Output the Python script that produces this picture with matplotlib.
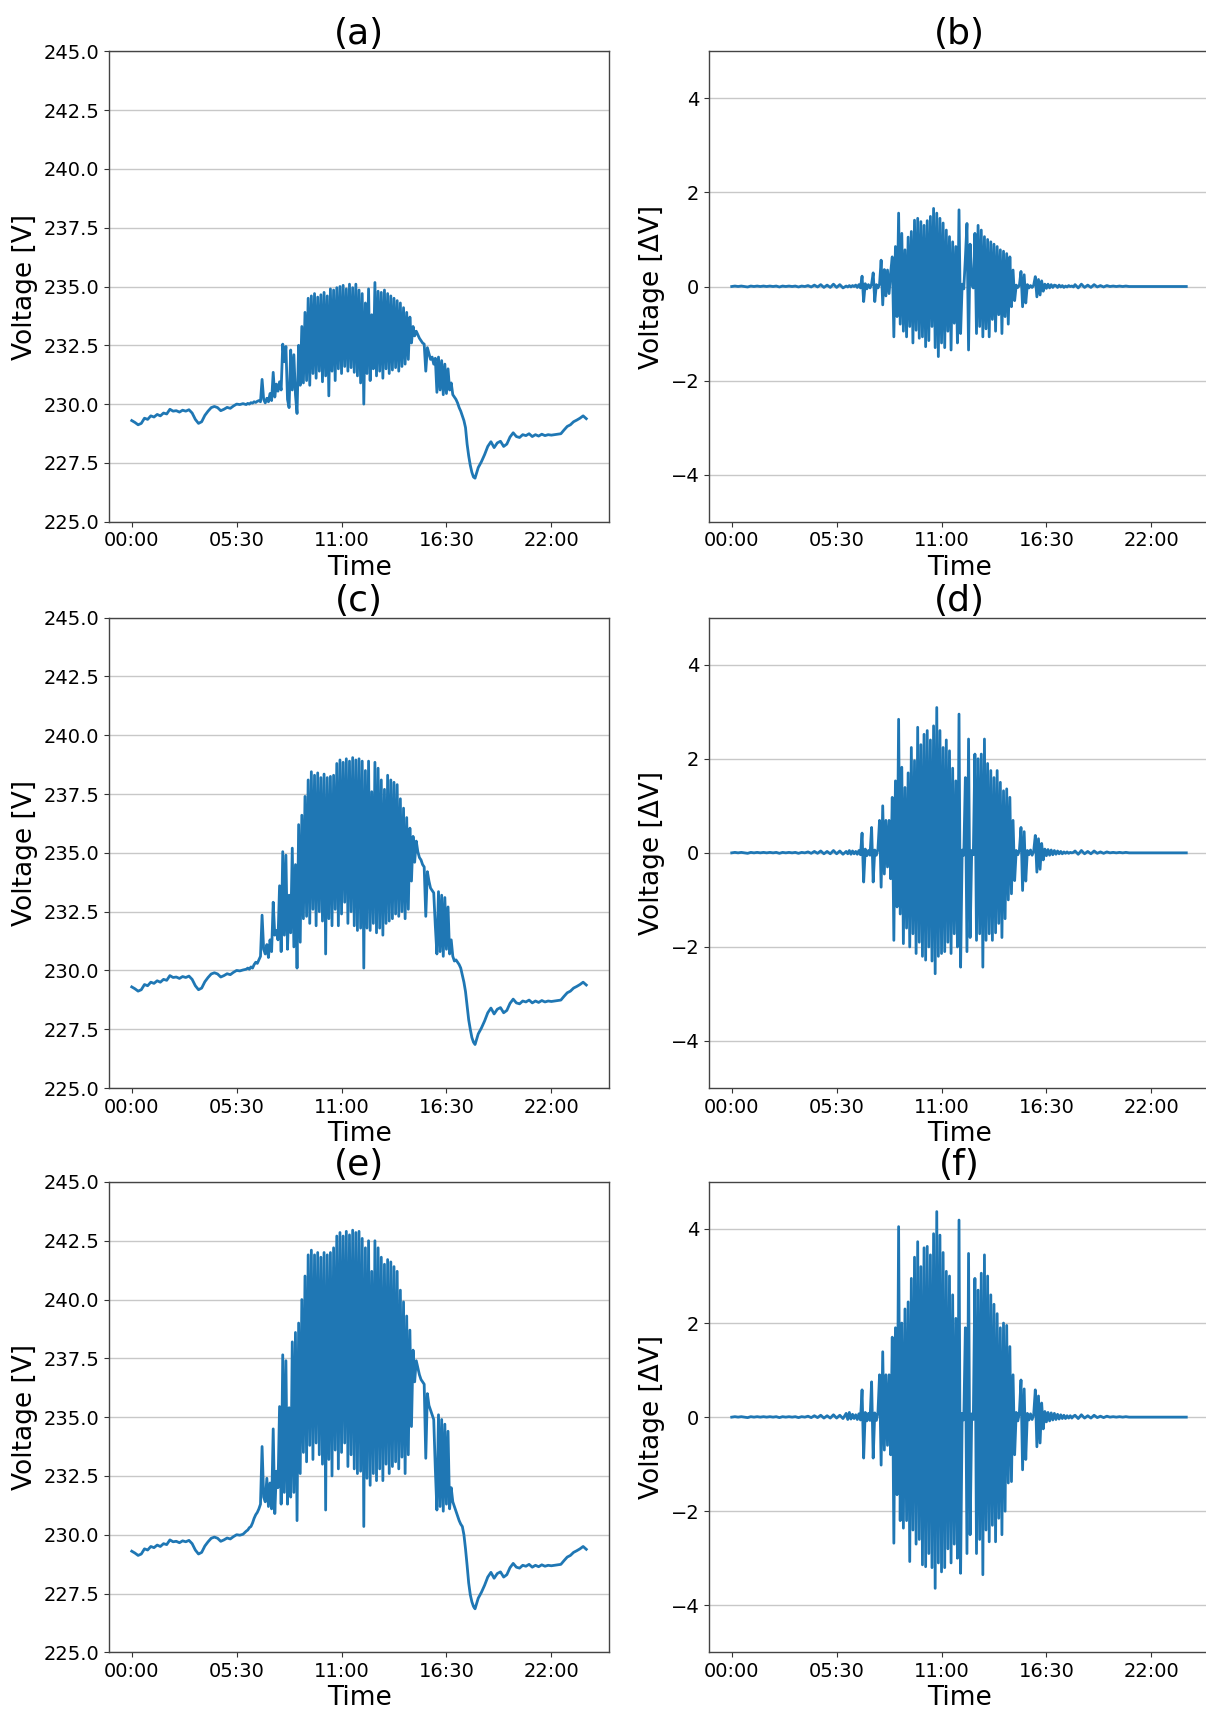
import numpy as np
import matplotlib.pyplot as plt

# sampling grid: 10-min steps at night, 5-min steps during the day
t_am = np.arange(36) / 6          # 00:00 - 05:50
t_day = 6 + np.arange(144) / 12   # 06:00 - 17:55
t_pm = 18 + np.arange(36) / 6     # 18:00 - 23:50
hours = np.concatenate([t_am, t_day, t_pm])

tick_hours = [0, 5.5, 11, 16.5, 22]
tick_labels = ["00:00", "05:30", "11:00", "16:30", "22:00"]

# --- bus voltage [V], night parts are the same in all three cases ---
v_night_am = [
    229.30, 229.22, 229.12, 229.18, 229.40, 229.35,
    229.50, 229.45, 229.56, 229.50, 229.62, 229.58,
    229.78, 229.70, 229.72, 229.66, 229.74, 229.70,
    229.76, 229.62, 229.35, 229.18, 229.25, 229.52,
    229.70, 229.85, 229.90, 229.85, 229.72, 229.78,
    229.86, 229.82, 229.92, 230.00, 229.98, 230.02,
]
v_night_pm = [
    226.85, 227.30, 227.55, 227.85, 228.20, 228.40,
    228.15, 228.35, 228.42, 228.20, 228.30, 228.60,
    228.78, 228.62, 228.58, 228.70, 228.66, 228.74,
    228.62, 228.70, 228.64, 228.72, 228.66, 228.70,
    228.68, 228.70, 228.72, 228.74, 228.90, 229.05,
    229.12, 229.25, 229.32, 229.40, 229.50, 229.38,
]

v_day_a = [
    229.98, 230.03, 230.00, 230.06, 230.04, 230.10, 230.07, 230.12, 230.15, 230.10, 231.05, 230.20,
    230.05, 230.25, 230.10, 230.45, 230.15, 231.35, 230.30, 230.85, 230.55, 230.95, 230.60, 232.55,
    231.80, 232.45, 230.20, 229.85, 232.30, 230.60, 232.10, 230.40, 229.60, 232.50, 230.80, 233.30,
    230.90, 233.90, 231.00, 234.50, 230.80, 234.60, 231.30, 234.70, 231.10, 234.55, 231.40, 234.65,
    230.95, 234.75, 231.20, 234.60, 230.35, 234.90, 231.40, 234.85, 231.00, 234.95, 231.50, 235.00,
    231.30, 235.05, 231.60, 234.90, 231.40, 235.10, 231.55, 234.95, 231.35, 235.10, 231.20, 234.85,
    230.90, 234.70, 230.00, 234.30, 231.30, 234.90, 231.00, 233.80, 231.50, 235.17, 231.20, 234.80,
    231.40, 234.75, 231.10, 234.85, 231.50, 234.70, 231.30, 234.60, 231.45, 234.50, 231.55, 234.40,
    231.40, 234.30, 231.60, 234.10, 231.70, 233.90, 231.90, 233.70, 232.60, 233.30, 232.90, 233.10,
    232.95, 232.80, 232.70, 232.60, 232.55, 231.40, 232.40, 232.15, 231.90, 232.00, 231.70, 231.95,
    230.50, 232.00, 230.60, 231.85, 230.40, 231.70, 230.45, 231.50, 230.60, 230.90, 230.40, 230.30,
    230.20, 230.05, 229.85, 229.70, 229.50, 229.30, 229.00, 228.30, 227.80, 227.40, 227.10, 226.90,
]
v_day_c = [
    230.05, 230.10, 230.05, 230.15, 230.10, 230.25, 230.35, 230.30, 230.45, 230.60, 232.35, 230.90,
    230.70, 231.10, 230.55, 231.30, 230.80, 232.90, 231.50, 231.70, 231.30, 233.60, 230.80, 235.05,
    231.50, 234.90, 230.90, 233.20, 231.60, 235.20, 231.00, 234.50, 230.10, 236.20, 231.20, 236.60,
    232.20, 237.40, 232.30, 238.10, 232.00, 238.45, 232.60, 238.30, 231.90, 238.40, 232.50, 238.20,
    232.10, 238.35, 230.70, 238.20, 232.20, 238.25, 231.90, 238.30, 232.60, 238.80, 231.90, 238.95,
    232.40, 238.85, 232.90, 239.00, 232.00, 238.90, 232.50, 239.05, 231.90, 238.95, 231.70, 239.00,
    231.80, 238.90, 230.10, 238.50, 231.80, 238.90, 231.70, 237.60, 232.00, 238.85, 231.60, 238.60,
    231.80, 238.10, 231.50, 237.70, 232.00, 238.30, 232.10, 238.10, 232.20, 238.00, 232.40, 237.90,
    232.30, 237.30, 232.50, 236.90, 232.20, 236.50, 232.60, 236.05, 233.80, 235.70, 234.60, 235.50,
    235.05, 234.80, 234.70, 234.50, 234.40, 232.30, 234.20, 233.80, 233.50, 233.40, 233.30, 231.90,
    230.70, 233.35, 230.80, 233.20, 230.60, 233.10, 230.90, 232.70, 230.70, 231.30, 230.60, 230.40,
    230.45, 230.35, 230.25, 230.10, 229.80, 229.50, 229.10, 228.50, 227.90, 227.50, 227.15, 226.95,
]
v_day_e = [
    230.15, 230.20, 230.30, 230.35, 230.50, 230.70, 230.85, 230.95, 231.10, 231.30, 233.75, 231.60,
    231.40, 232.40, 231.20, 232.20, 231.10, 234.50, 230.90, 232.70, 232.00, 235.45, 231.30, 237.65,
    231.80, 237.40, 231.30, 235.40, 231.60, 238.20, 231.80, 238.60, 230.60, 239.00, 232.60, 240.00,
    233.50, 241.00, 233.10, 241.90, 233.80, 242.10, 233.20, 241.90, 233.90, 242.00, 233.40, 241.80,
    233.00, 242.00, 231.05, 241.90, 233.20, 242.00, 232.50, 242.20, 233.60, 242.70, 232.80, 242.85,
    233.50, 242.70, 233.90, 242.90, 232.90, 242.75, 233.40, 242.95, 232.80, 242.85, 232.60, 242.90,
    232.70, 242.60, 230.35, 242.20, 232.40, 242.50, 232.10, 241.20, 232.60, 242.50, 232.30, 242.20,
    232.80, 241.80, 232.30, 241.50, 233.00, 241.70, 232.60, 241.60, 232.90, 241.40, 233.10, 241.20,
    232.80, 240.40, 233.30, 239.90, 232.60, 239.30, 233.40, 238.70, 234.60, 237.85, 236.50, 237.40,
    237.10, 236.80, 236.60, 236.50, 236.40, 233.25, 236.00, 235.50, 235.30, 235.10, 234.90, 232.80,
    231.05, 235.10, 231.20, 234.90, 231.00, 234.70, 231.30, 234.40, 231.10, 232.00, 231.40, 231.20,
    231.00, 230.80, 230.60, 230.45, 230.35, 230.00, 229.40, 228.70, 227.95, 227.45, 227.15, 226.95,
]

# --- voltage deviation [dV] ---
dv_night_am = [
    0.00, 0.01, 0.00, 0.01, 0.00, -0.01, 0.01, 0.00, 0.01, 0.00, 0.01, 0.00,
    0.01, 0.00, 0.01, -0.01, 0.01, 0.00, 0.01, 0.00, 0.01, -0.01, 0.01, 0.00,
    0.02, -0.01, 0.03, -0.01, 0.04, -0.02, 0.03, -0.02, 0.05, -0.02, 0.04, -0.03,
]
dv_night_pm = [
    0.04, -0.03, 0.05, -0.02, 0.03, -0.02, 0.04, -0.01, 0.02, -0.01, 0.02, 0.00,
    0.01, 0.00, 0.01, 0.00, 0.01, 0.00, 0.00, 0.00, 0.00, 0.00, 0.00, 0.00,
    0.00, 0.00, 0.00, 0.00, 0.00, 0.00, 0.00, 0.00, 0.00, 0.00, 0.00, 0.00,
]

dv_day_b = [
    0.01, -0.01, 0.02, -0.01, 0.02, 0.00, 0.03, -0.02, 0.04, -0.03, 0.22, -0.32,
    0.06, -0.05, 0.04, -0.03, 0.05, 0.29, -0.32, 0.04, -0.03, 0.05, 0.56, -0.39,
    0.36, -0.20, 0.35, -0.15, 0.30, 0.63, -1.07, 0.85, -0.64, 1.56, -0.80, 1.13,
    -0.95, 0.78, -1.07, 1.05, -0.85, 1.17, -1.20, 1.41, -0.93, 1.45, -1.10, 1.38,
    -1.07, 1.30, -1.28, 1.40, -1.15, 1.49, -0.85, 1.66, -1.30, 1.56, -1.49, 1.45,
    -1.20, 1.35, -1.30, 1.20, -0.95, 1.06, -1.35, 0.95, -0.78, 0.85, -1.20, 1.63,
    -1.00, 0.05, -0.05, 0.60, 1.34, -1.35, 0.90, 0.04, -0.03, 1.13, -1.00, 1.30,
    -0.85, 1.20, -1.07, 1.06, -0.90, 1.00, -1.07, 0.95, -0.70, 0.90, -0.95, 0.85,
    -0.60, 0.78, -1.00, 0.75, -0.64, 0.70, -0.80, 0.63, -0.43, 0.35, -0.30, 0.03,
    -0.02, 0.03, 0.32, -0.43, 0.25, -0.35, 0.04, -0.03, 0.02, -0.02, 0.03, 0.21,
    -0.22, 0.15, -0.18, 0.12, -0.10, 0.05, -0.04, 0.05, -0.03, 0.04, -0.02, 0.03,
    0.02, -0.02, 0.03, -0.01, 0.02, -0.02, 0.01, -0.01, 0.02, 0.00, 0.01, -0.01,
]
dv_day_d = [
    0.03, -0.02, 0.05, -0.03, 0.04, -0.02, 0.03, -0.03, 0.05, -0.04, 0.42, -0.62,
    0.08, -0.06, 0.05, -0.05, 0.54, -0.62, 0.06, -0.05, 0.08, 0.69, -0.73, 1.00,
    -0.45, 0.69, -0.30, 0.69, -0.55, 1.18, -1.86, 1.53, -1.15, 2.84, -1.30, 1.82,
    -1.93, 1.39, -1.60, 1.70, -2.00, 2.24, -1.72, 1.96, -2.14, 2.67, -1.90, 2.30,
    -2.20, 2.52, -2.28, 2.60, -2.00, 2.40, -2.30, 2.70, -2.57, 3.09, -2.20, 2.60,
    -2.14, 2.24, -2.10, 2.40, -1.90, 2.17, -2.14, 1.80, -1.72, 1.53, -2.00, 2.95,
    -2.43, 0.06, -0.05, 1.60, -2.10, 2.42, -1.80, 0.05, -0.04, 2.10, -1.86, 2.00,
    -1.72, 2.10, -2.43, 2.42, -1.86, 1.90, -1.72, 1.75, -1.86, 1.60, -1.70, 1.75,
    -1.50, 1.50, -1.80, 1.32, -1.40, 1.36, -1.00, 1.18, -0.87, 0.69, -0.59, 0.05,
    -0.04, 0.06, 0.54, -0.80, 0.45, -0.60, 0.05, -0.04, 0.06, -0.05, 0.04, 0.37,
    -0.41, 0.30, -0.35, 0.20, -0.15, 0.08, -0.06, 0.07, -0.05, 0.06, -0.04, 0.05,
    -0.03, 0.04, -0.02, 0.03, -0.02, 0.02, -0.01, 0.02, -0.01, 0.01, 0.00, 0.01,
]
dv_day_f = [
    0.08, -0.05, 0.10, -0.04, 0.06, -0.03, 0.05, -0.05, 0.07, -0.06, 0.58, -0.87,
    0.10, -0.08, 0.08, -0.07, 0.75, -0.87, 0.09, -0.07, 0.10, 0.90, -1.02, 1.39,
    -0.70, 0.90, -0.60, 0.90, -0.80, 1.70, -2.68, 1.90, -1.65, 4.05, -2.20, 2.00,
    -2.36, 2.30, -2.20, 2.45, -3.07, 2.95, -2.40, 3.40, -2.70, 3.73, -2.60, 3.20,
    -3.14, 3.60, -3.18, 3.63, -2.90, 3.45, -3.20, 3.90, -3.64, 4.37, -3.10, 3.87,
    -3.29, 3.50, -3.20, 3.10, -2.80, 3.00, -3.10, 2.60, -2.70, 2.10, -3.00, 4.19,
    -3.32, 0.08, -0.06, 1.90, -2.90, 3.48, -2.50, 0.07, -0.05, 2.95, -2.90, 2.70,
    -2.60, 3.06, -3.35, 3.45, -2.40, 3.00, -2.65, 2.60, -2.30, 2.40, -2.65, 2.20,
    -2.15, 1.90, -2.50, 2.00, -2.00, 1.95, -1.40, 1.50, -1.37, 0.90, -0.80, 0.10,
    -0.08, 0.10, 0.79, -1.12, 0.60, -0.90, 0.08, -0.06, 0.07, -0.05, 0.06, 0.58,
    -0.63, 0.45, -0.55, 0.30, -0.25, 0.12, -0.10, 0.10, -0.08, 0.09, -0.06, 0.08,
    -0.05, 0.06, -0.04, 0.05, -0.03, 0.04, -0.03, 0.03, -0.02, 0.03, -0.02, 0.02,
]

voltage_panels = [("(a)", v_day_a), ("(c)", v_day_c), ("(e)", v_day_e)]
delta_panels = [("(b)", dv_day_b), ("(d)", dv_day_d), ("(f)", dv_day_f)]

line_color = "#1f77b4"
line_width = 2.0
fig = plt.figure(figsize=(12.06, 17.11), dpi=100)

row_bottoms = [0.6951, 0.3641, 0.0343]
ax_w, ax_h = 0.4146, 0.2749


def style_axis(ax, title):
    ax.set_title(title, fontsize=26, pad=2)
    ax.set_xlabel("Time", fontsize=19, labelpad=3)
    ax.set_xticks(tick_hours)
    ax.set_xticklabels(tick_labels)
    ax.tick_params(labelsize=14, color="#333333")
    ax.grid(axis="y", color="#c8c8c8", linewidth=1.0)
    ax.set_axisbelow(True)
    for sp in ax.spines.values():
        sp.set_color("#444444")
        sp.set_linewidth(1.0)


for row, ((ta, v_day), (tb, dv_day)) in enumerate(zip(voltage_panels, delta_panels)):
    y0 = row_bottoms[row]

    ax = fig.add_axes([0.0904, y0, ax_w, ax_h])
    volts = np.concatenate([v_night_am, v_day, v_night_pm])
    ax.plot(hours, volts, color=line_color, linewidth=line_width)
    ax.set_ylim(225, 245)
    ax.set_yticks(np.arange(225, 245.1, 2.5))
    ax.set_ylabel("Voltage [V]", fontsize=19)
    style_axis(ax, ta)

    bx = fig.add_axes([0.5879, y0, ax_w, ax_h])
    delta = np.concatenate([dv_night_am, dv_day, dv_night_pm])
    bx.plot(hours, delta, color=line_color, linewidth=line_width)
    bx.set_ylim(-5, 5)
    bx.set_yticks([-4, -2, 0, 2, 4])
    bx.set_ylabel("Voltage [ΔV]", fontsize=19)
    style_axis(bx, tb)

fig.savefig("out.png", dpi=100)
